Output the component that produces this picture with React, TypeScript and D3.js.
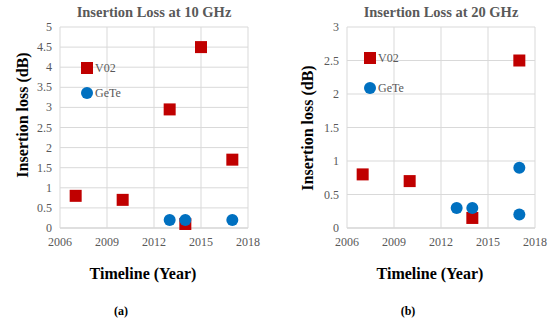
import * as React from 'react';
import * as d3 from 'd3';

// 10 GHz panel
const v02Years10 = [2007, 2010, 2013, 2014, 2015, 2017];
const v02Loss10 = [0.8, 0.7, 2.95, 0.1, 4.5, 1.7];
const geteYears10 = [2013, 2014, 2017];
const geteLoss10 = [0.2, 0.2, 0.2];

// 20 GHz panel
const v02Years20 = [2007, 2010, 2014, 2017];
const v02Loss20 = [0.8, 0.7, 0.15, 2.5];
const geteYears20 = [2013, 2014, 2017, 2017];
const geteLoss20 = [0.3, 0.3, 0.9, 0.2];

const yearTicks = [2006, 2009, 2012, 2015, 2018];
const lossTicks10 = [0, 0.5, 1, 1.5, 2, 2.5, 3, 3.5, 4, 4.5, 5];
const lossTicks20 = [0, 0.5, 1, 1.5, 2, 2.5, 3];

const RED = '#c00000';
const BLUE = '#0070c0';
const GRAY = '#595959';
const SERIF = "'Liberation Serif', 'DejaVu Serif', serif";

interface PanelProps {
  title: string;
  caption: string;
  left: number;
  right: number;
  yTicks: number[];
  v02x: number[];
  v02y: number[];
  gx: number[];
  gy: number[];
  legendY: [number, number];
  legendX: number;
  axisTitleX: number;
  axisTitleY: number;
}

function Panel(p: PanelProps) {
  const top = 27, bottom = 228;
  const x = d3.scaleLinear().domain([2006, 2018]).range([p.left, p.right]);
  const y = d3.scaleLinear().domain([0, d3.max(p.yTicks) || 1]).range([bottom, top]);
  const cx = (p.left + p.right) / 2;
  const sq = 12;
  return (
    <g>
      <text x={cx} y={17} textAnchor="middle" fontFamily={SERIF} fontWeight="bold" fontSize={14.5} fill={GRAY}>{p.title}</text>
      {p.yTicks.map(t => (
        <g key={'y' + t}>
          <line x1={p.left} x2={p.right} y1={y(t)} y2={y(t)} stroke={t === 0 ? '#bfbfbf' : '#d9d9d9'} strokeWidth={1} />
          <text x={p.left - 8} y={y(t) + 4} textAnchor="end" fontFamily={SERIF} fontSize={12} fill={GRAY}>{t}</text>
        </g>
      ))}
      {yearTicks.map(t => (
        <g key={'x' + t}>
          <line x1={x(t)} x2={x(t)} y1={top} y2={bottom} stroke="#d9d9d9" strokeWidth={1} />
          <text x={x(t)} y={bottom + 18} textAnchor="middle" fontFamily={SERIF} fontSize={12} fill={GRAY}>{t}</text>
        </g>
      ))}
      {p.v02x.map((v, i) => (
        <rect key={'v' + i} x={x(v) - sq / 2} y={y(p.v02y[i]) - sq / 2} width={sq} height={sq} fill={RED} />
      ))}
      {p.gx.map((v, i) => (
        <circle key={'g' + i} cx={x(v)} cy={y(p.gy[i])} r={6} fill={BLUE} />
      ))}
      <rect x={p.legendX - sq / 2} y={p.legendY[0] - sq / 2} width={sq} height={sq} fill={RED} />
      <text x={p.legendX + 8} y={p.legendY[0] + 4} fontFamily={SERIF} fontSize={12} fill={GRAY}>V02</text>
      <circle cx={p.legendX} cy={p.legendY[1]} r={6} fill={BLUE} />
      <text x={p.legendX + 8} y={p.legendY[1] + 4} fontFamily={SERIF} fontSize={12} fill={GRAY}>GeTe</text>
      <text transform={`translate(${p.axisTitleX},${p.axisTitleY}) rotate(-90)`} textAnchor="middle" fontFamily={SERIF} fontWeight="bold" fontSize={16} fill="#000">Insertion loss (dB)</text>
      <text x={cx - 11} y={279} textAnchor="middle" fontFamily={SERIF} fontWeight="bold" fontSize={16} fill="#000">Timeline (Year)</text>
      <text x={cx - 33} y={315} textAnchor="middle" fontFamily={SERIF} fontWeight="bold" fontSize={12} fill="#000">{p.caption}</text>
    </g>
  );
}

export default function App() {
  return (
    <svg width={550} height={322} style={{ position: 'absolute', left: 0, top: 0, background: '#fff' }}>
      <Panel title="Insertion Loss at 10 GHz" caption="(a)" left={60} right={248} yTicks={lossTicks10}
        v02x={v02Years10} v02y={v02Loss10} gx={geteYears10} gy={geteLoss10}
        legendX={87} legendY={[68, 93]} axisTitleX={28} axisTitleY={115} />
      <Panel title="Insertion Loss at 20 GHz" caption="(b)" left={347} right={535} yTicks={lossTicks20}
        v02x={v02Years20} v02y={v02Loss20} gx={geteYears20} gy={geteLoss20}
        legendX={370} legendY={[58, 88]} axisTitleX={313} axisTitleY={128} />
    </svg>
  );
}
